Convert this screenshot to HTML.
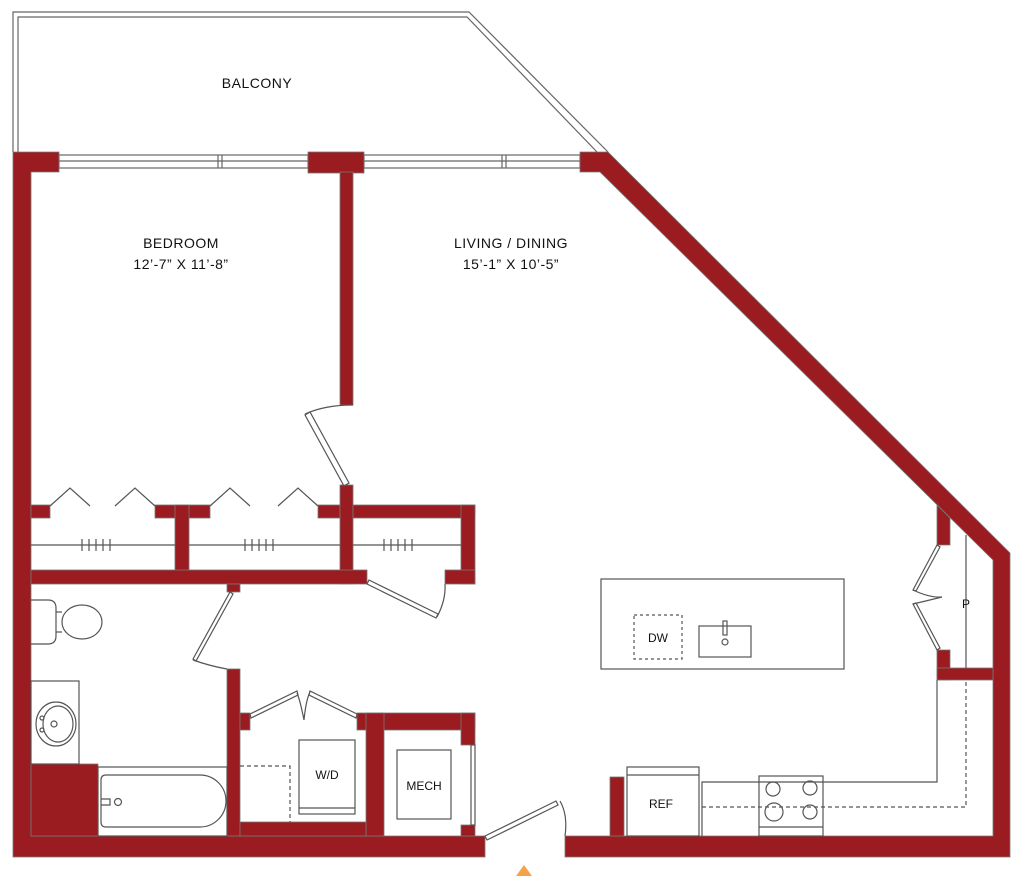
<!DOCTYPE html>
<html><head><meta charset="utf-8"><style>
html,body{margin:0;padding:0;background:#fff;}
svg{display:block;}
text{font-family:"Liberation Sans",sans-serif;fill:#111;}
</style></head><body>
<svg width="1024" height="888" viewBox="0 0 1024 888" xmlns="http://www.w3.org/2000/svg">
<g fill="none" stroke="#666" stroke-width="1.2">
<polyline points="13,152 13,12 469,12 608,152"/>
<polyline points="18,152 18,17 467,17 597,152"/>
<!-- windows -->
<rect x="59" y="155" width="249" height="13"/>
<line x1="59" y1="161" x2="308" y2="161"/>
<rect x="364" y="155" width="216" height="13"/>
<line x1="364" y1="161" x2="580" y2="161"/>
<line x1="218" y1="155" x2="218" y2="168"/><line x1="222" y1="155" x2="222" y2="168"/>
<line x1="502" y1="155" x2="502" y2="168"/><line x1="506" y1="155" x2="506" y2="168"/>
</g>
<g fill="#9b1c20" stroke="#777" stroke-width="0.8">
<polygon points="13,152 59,152 59,172 31,172 31,836 485,836 485,857 13,857"/>
<rect x="308" y="152" width="56" height="21"/>
<rect x="340" y="172" width="13" height="233"/>
<polygon points="580,152 608,152 1010,553 1010,857 565,857 565,836 993,836 993,560 600,172 580,172"/>
<!-- closets -->
<rect x="31" y="505" width="19" height="13"/>
<rect x="155" y="505" width="55" height="13"/>
<rect x="175" y="505" width="14" height="67"/>
<rect x="318" y="505" width="22" height="13"/>
<rect x="340" y="485" width="13" height="99"/>
<rect x="353" y="505" width="122" height="13"/>
<rect x="461" y="505" width="14" height="79"/>
<rect x="445" y="570" width="30" height="14"/>
<rect x="31" y="570" width="336" height="14"/>
<rect x="227" y="584" width="13" height="8"/>
<!-- bath / laundry -->
<rect x="227" y="669" width="13" height="167"/>
<rect x="240" y="713" width="10" height="17"/>
<rect x="357" y="713" width="118" height="17"/>
<rect x="366" y="713" width="18" height="123"/>
<rect x="461" y="713" width="14" height="32"/>
<rect x="461" y="825" width="14" height="11"/>
<rect x="240" y="822" width="126" height="14"/>
<rect x="31" y="764" width="67" height="72"/>
<!-- kitchen / pantry -->
<rect x="610" y="777" width="14" height="59"/>
<polygon points="937,505 950,518 950,545 937,545"/>
<rect x="937" y="650" width="13" height="30"/>
<rect x="937" y="668" width="56" height="12"/>
</g>
<g fill="none" stroke="#555" stroke-width="1.2">
<!-- bedroom door -->
<polygon points="305,415 310,412 349,483 344,486"/>
<path d="M305,414 Q325,405 353,405"/>
<!-- bifold chevrons -->
<polyline points="50,506 70,488 90,506"/>
<polyline points="115,506 135,488 155,506"/>
<polyline points="210,506 230,488 250,506"/>
<polyline points="278,506 298,488 318,506"/>
<!-- rods -->
<line x1="31" y1="545" x2="175" y2="545"/><line x1="189" y1="545" x2="340" y2="545"/><line x1="353" y1="545" x2="461" y2="545"/>
<path d="M82,539v12M89,539v12M96,539v12M103,539v12M110,539v12M245,539v12M252,539v12M259,539v12M266,539v12M273,539v12M384,539v12M391,539v12M398,539v12M405,539v12M412,539v12"/>
<!-- closet door -->
<polygon points="367,584 369,580 438,614 436,618"/>
<path d="M437,617 Q446,600 445,584"/>
<!-- bath door -->
<polygon points="230,592 233,594 196,661 193,659"/>
<path d="M193,660 Q210,666 227,669"/>
<!-- toilet -->
<path d="M31,600 H48 Q56,600 56,608 V636 Q56,644 48,644 H31"/>
<ellipse cx="82" cy="622" rx="20" ry="17"/>
<line x1="56" y1="612" x2="62" y2="612"/><line x1="56" y1="632" x2="62" y2="632"/>
<!-- vanity -->
<rect x="31" y="681" width="48" height="83"/>
<ellipse cx="56" cy="724" rx="20" ry="22"/>
<ellipse cx="58" cy="724" rx="15" ry="18"/>
<circle cx="54" cy="724" r="3"/>
<circle cx="42" cy="718" r="2"/><circle cx="42" cy="730" r="2"/>
<!-- tub -->
<rect x="98" y="767" width="129" height="69"/>
<path d="M106,775 H200 A26,26 0 0 1 200,827 H106 Q101,827 101,822 V780 Q101,775 106,775 Z"/>
<circle cx="118" cy="802" r="3.5"/>
<path d="M101,799 H110 V805 H101"/>
<!-- laundry -->
<polygon points="250,714 297,691 298,695 251,718"/>
<polygon points="357,714 310,691 309,695 356,718"/>
<path d="M297,693 Q300,700 304,720 Q306,700 310,692"/>
<rect x="299" y="740" width="56" height="74"/>
<line x1="299" y1="808" x2="355" y2="808"/>
<path d="M240,766 H290 V822" stroke-dasharray="4,3"/>
<!-- mech -->
<rect x="397" y="750" width="54" height="69"/>
<rect x="471" y="745" width="4" height="80"/>
<!-- entry door -->
<polygon points="485,836 487,840 558,805 556,801"/>
<path d="M560,801 Q568,815 565,836"/>
<!-- island -->
<rect x="601" y="579" width="243" height="90"/>
<rect x="634" y="615" width="48" height="44" stroke-dasharray="3,3"/>
<rect x="699" y="626" width="52" height="31"/>
<rect x="723" y="621" width="4" height="14"/>
<circle cx="725" cy="642" r="3"/>
<!-- ref -->
<rect x="627" y="767" width="72" height="69"/>
<line x1="627" y1="775" x2="699" y2="775"/>
<!-- counter -->
<polyline points="702,836 702,782 937,782 937,680"/>
<rect x="759" y="776" width="64" height="60"/>
<line x1="759" y1="827" x2="823" y2="827"/>
<circle cx="773" cy="789" r="7"/><circle cx="810" cy="788" r="7"/>
<circle cx="774" cy="812" r="9"/><circle cx="810" cy="812" r="7"/>
<path d="M702,807 H966 V680" stroke-dasharray="4,3"/>
<line x1="966" y1="535" x2="966" y2="668"/>
<!-- pantry bifold -->
<polygon points="937,545 913,590 916,591 940,547"/>
<polygon points="937,650 913,604 916,603 940,648"/>
<path d="M913,590 Q930,598 942,597 Q930,600 913,604"/>
</g>
<polygon points="516,876 524,865 532,876" fill="#f5a34a"/>
<g font-size="14" text-anchor="middle" letter-spacing="0.5">
<text x="257" y="88">BALCONY</text>
<text x="181" y="248">BEDROOM</text>
<text x="181" y="269">12’-7” X 11’-8”</text>
<text x="511" y="248">LIVING / DINING</text>
<text x="511" y="269">15’-1” X 10’-5”</text>
</g>
<g font-size="12" text-anchor="middle">
<text x="327" y="779">W/D</text>
<text x="424" y="790">MECH</text>
<text x="661" y="808">REF</text>
<text x="658" y="642">DW</text>
<text x="966" y="608">P</text>
</g>
</svg>
</body></html>
